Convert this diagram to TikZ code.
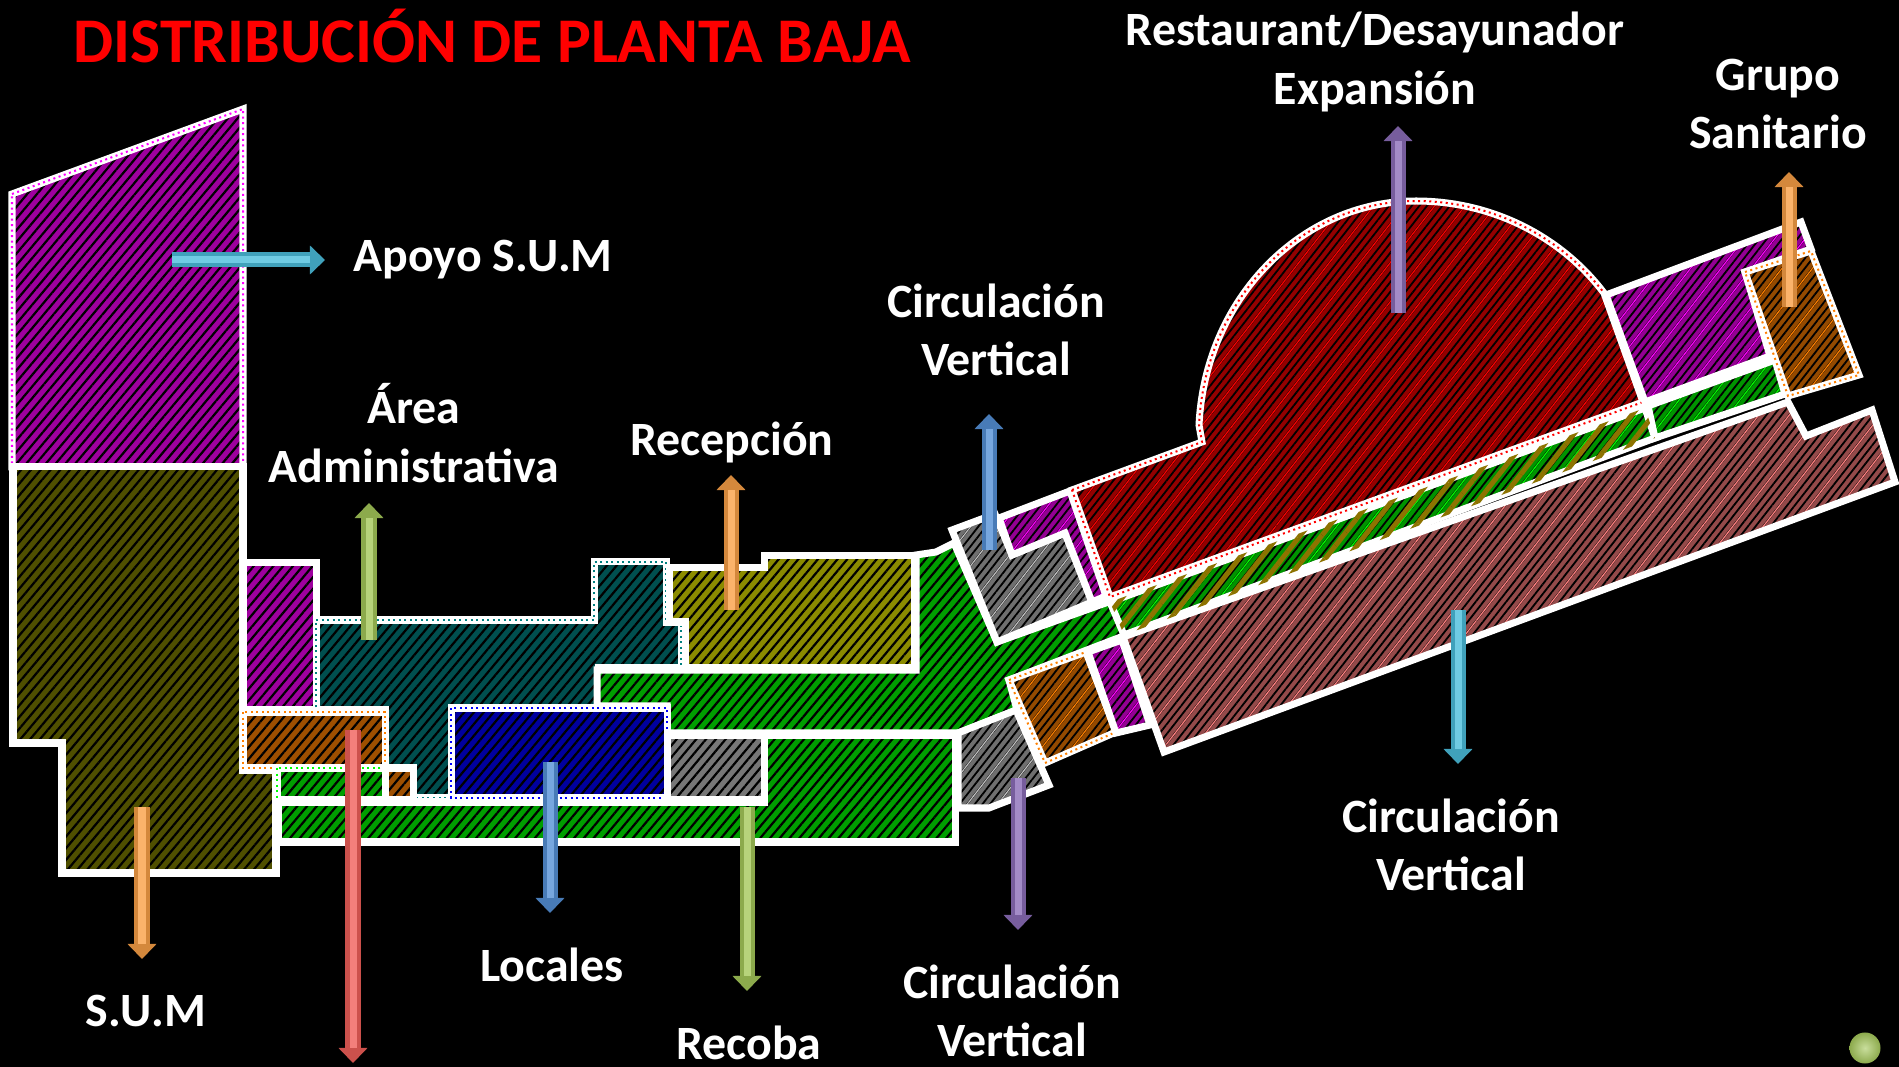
\documentclass[tikz,border=0pt]{standalone}
\usepackage{fontspec}
\setmainfont{Carlito}
\usetikzlibrary{arrows.meta,patterns.meta,positioning}

\tikzstyle{room} = [draw=white, line width=0.07cm,
    preaction={fill=#1!62!black},
    preaction={pattern={Lines[angle=50,distance=0.075cm,line width=0.022cm]},pattern color=black}]
\tikzstyle{wing} = [draw=white, line width=0.07cm,
    preaction={fill=#1!58!black},
    preaction={pattern={Lines[angle=52,distance=0.06cm,line width=0.018cm]},pattern color=black},
    preaction={pattern={Lines[angle=52,distance=0.24cm,line width=0.012cm]},pattern color=#1}]
\tikzstyle{beads} = [postaction={draw=#1, line width=0.02cm, densely dotted}]
\tikzstyle{tube} = [draw=#1!85!black, line width=0.15cm,
    -{Triangle[width=0.28cm,length=0.15cm]},
    postaction={draw=#1!80!white, line width=0.07cm, arrows=-, shorten >=0.15cm}]
\tikzstyle{tag} = [text=white, font=\bfseries\fontsize{13.6}{16.6}\selectfont, align=center, inner sep=0pt]

\definecolor{cOlive}{RGB}{128,128,0}
\definecolor{cMag}{RGB}{255,0,255}
\definecolor{cTeal}{RGB}{0,128,128}
\definecolor{cYel}{RGB}{225,225,0}
\definecolor{cGreen}{RGB}{0,255,0}
\definecolor{cBlue}{RGB}{0,0,255}
\definecolor{cGrey}{RGB}{192,192,192}
\definecolor{cOrange}{RGB}{255,128,0}
\definecolor{cRed}{RGB}{255,0,0}
\definecolor{cSalmon}{RGB}{255,128,128}
\definecolor{aCyan}{RGB}{75,190,220}
\definecolor{aLime}{RGB}{165,200,90}
\definecolor{aOrange}{RGB}{250,160,70}
\definecolor{aBlue}{RGB}{85,145,215}
\definecolor{aRed}{RGB}{240,95,90}
\definecolor{aPurple}{RGB}{140,110,185}

\begin{document}
\begin{tikzpicture}[x=0.01cm,y=-0.01cm]
    \fill [black] (0,0) rectangle (1899,1067);
    \useasboundingbox (0,0) rectangle (1899,1067);

    % Left block
    \draw [room=cMag, beads=cMag] (12,194) -- (243,109) -- (243,467) -- (12,467) -- cycle;
    \draw [room=cOlive] (13,467) -- (243,467) -- (243,770) -- (276,770) -- (276,873)
        -- (62,873) -- (62,743) -- (13,743) -- cycle;
    \draw [room=cMag] (243,563) rectangle (316,710);

    % Straight part
    \draw [room=cTeal, beads=cTeal] (316,620) -- (594,620) -- (594,562) -- (666,562) -- (666,622)
        -- (681,622) -- (681,668) -- (598,668) -- (598,708) -- (451,708) -- (451,798)
        -- (413,798) -- (413,768) -- (385,768) -- (385,710) -- (316,710) -- cycle;
    \draw [room=cOrange, beads=cOrange] (243,712) rectangle (385,768);
    \draw [room=cGreen, beads=cGreen] (277,768) rectangle (385,800);
    \draw [room=cOrange] (385,768) rectangle (413,800);
    \draw [room=cGreen] (278,802) -- (764,802) -- (764,735) -- (955,735) -- (955,842)
        -- (278,842) -- cycle;
    \draw [room=cGreen] (597,670) -- (916,670) -- (916,555) -- (936,552) -- (954,543)
        -- (997,642) -- (1114,600) -- (1126,635) -- (1009,680) -- (1017,710) -- (958,733)
        -- (667,733) -- (667,706) -- (597,706) -- cycle;
    \draw [room=cYel] (669,568) -- (764,568) -- (764,556) -- (914,556) -- (914,668)
        -- (685,668) -- (685,622) -- (669,622) -- cycle;
    \draw [room=cBlue, beads=cBlue] (451,708) rectangle (667,798);
    \draw [room=cGrey] (667,735) rectangle (764,800);

    % Rotated part
    \draw [wing=cGrey] (952,530) -- (995,514) -- (1012,555) -- (1065,533) -- (1092,602)
        -- (997,642) -- cycle;
    \draw [wing=cMag] (999,518) -- (1070,491) -- (1106,596) -- (1092,602) -- (1065,533)
        -- (1012,555) -- cycle;
    \draw [wing=cGrey] (958,733) -- (1016,710) -- (1049,785) -- (989,808) -- (958,808) -- cycle;
    \draw [wing=cOrange, beads=cOrange] (1009,680) -- (1086,652) -- (1116,732) -- (1045,763) -- cycle;
    \draw [wing=cMag] (1088,652) -- (1122,640) -- (1150,725) -- (1116,733) -- cycle;
    \draw [wing=cSalmon] (1123,637) -- (1788,402) -- (1806,436) -- (1872,410) -- (1895,482)
        -- (1164,752) -- cycle;
    \draw [wing=cGreen] (1648,406) -- (1775,360) -- (1785,394) -- (1655,438) -- cycle;
    \draw [wing=cGreen, postaction={pattern={Lines[angle=52,distance=0.17cm,line width=0.05cm]},pattern color=cOlive!90!cRed}]
        (1110,602) -- (1645,408) -- (1655,438) -- (1124,635) -- cycle;
    \draw [wing=cRed, beads=cRed] (1072,490) -- (1202,442) -- (1199,425)
        .. controls (1205,300) and (1300,201) .. (1416,201)
        .. controls (1490,201) and (1560,235) .. (1604,293)
        -- (1643,402) -- (1110,597) -- cycle;
    \draw [wing=cMag] (1606,295) -- (1801,222) -- (1811,249) -- (1745,272) -- (1770,356)
        -- (1645,402) -- cycle;
    \draw [wing=cOrange, beads=cOrange] (1745,272) -- (1811,251) -- (1859,375) -- (1788,396) -- cycle;

    % Arrow ends
    \coordinate (apoyoA) at (172,260);   \coordinate (apoyoB) at (325,260);
    \coordinate (adminA) at (369,640);   \coordinate (adminB) at (369,503);
    \coordinate (recepA) at (731,610);   \coordinate (recepB) at (731,475);
    \coordinate (circaA) at (989,550);   \coordinate (circaB) at (989,414);
    \coordinate (restoA) at (1398,313);  \coordinate (restoB) at (1398,126);
    \coordinate (grupoA) at (1789,307);  \coordinate (grupoB) at (1789,172);
    \coordinate (circbA) at (1458,610);  \coordinate (circbB) at (1458,764);
    \coordinate (circcA) at (1018,778);  \coordinate (circcB) at (1018,930);
    \coordinate (recobaA) at (747,807);  \coordinate (recobaB) at (747,991);
    \coordinate (localA) at (550,762);   \coordinate (localB) at (550,913);
    \coordinate (sanA) at (353,730);     \coordinate (sanB) at (353,1063);
    \coordinate (sumA) at (142,807);     \coordinate (sumB) at (142,959);

    \draw [tube=aCyan] (apoyoA) -- (apoyoB);
    \draw [tube=aLime] (adminA) -- (adminB);
    \draw [tube=aOrange] (recepA) -- (recepB);
    \draw [tube=aBlue] (circaA) -- (circaB);
    \draw [tube=aPurple] (restoA) -- (restoB);
    \draw [tube=aOrange] (grupoA) -- (grupoB);
    \draw [tube=aCyan] (circbA) -- (circbB);
    \draw [tube=aPurple] (circcA) -- (circcB);
    \draw [tube=aLime] (recobaA) -- (recobaB);
    \draw [tube=aBlue] (localA) -- (localB);
    \draw [tube=aRed] (sanA) -- (sanB);
    \draw [tube=aOrange] (sumA) -- (sumB);

    % Labels
    \node [text=red, font=\bfseries\fontsize{18.1}{21}\selectfont, inner sep=0pt] (title) at (492,36)
        {DISTRIBUCIÓN DE PLANTA BAJA};
    \node [tag] (resto) at (1375,62) {Restaurant/Desayunador\\Expansión};
    \node [tag] (grupo) at (1778,104) {Grupo\\Sanitario};
    \node [tag, anchor=west, right=0.28cm of apoyoB] (apoyo) {Apoyo S.U.M};
    \node [tag] (circa) at (996,330) {Circulación\\Vertical};
    \node [tag] (admin) at (414,433) {Área\\Administrativa};
    \node [tag] (recep) at (732,442) {Recepción};
    \node [tag] (sum) at (146,1011) {S.U.M};
    \node [tag] (local) at (552,965) {Locales};
    \node [tag] (recoba) at (749,1043) {Recoba};
    \node [tag] (circc) at (1012,1011) {Circulación\\Vertical};
    \node [tag] (circb) at (1451,845) {Circulación\\Vertical};
    \node [circle, minimum size=0.31cm, inner sep=0pt, shade, inner color=aLime!60!white, outer color=aLime!85!black] (dot) at (1865,1048) {};
\end{tikzpicture}
\end{document}
